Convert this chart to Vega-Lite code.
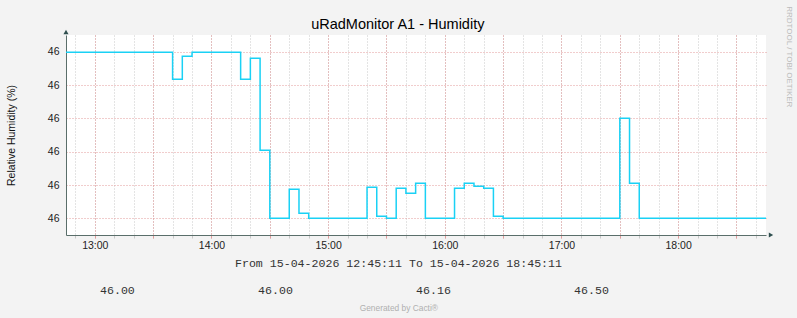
{
  "$schema": "https://vega.github.io/schema/vega-lite/v6.json",
  "background": "#F3F3F3",
  "autosize": {"type": "none"},
  "padding": {"left": 66, "top": 35, "right": 31, "bottom": 83},
  "width": 700,
  "height": 200,
  "config": {"view": {"stroke": null}},
  "view": {"fill": "white", "stroke": null},
  "data": {"values": [
    {"time": "2026-04-15T12:45:11", "humidity": 46.83},
    {"time": "2026-04-15T13:40:00", "humidity": 46.695},
    {"time": "2026-04-15T13:45:00", "humidity": 46.81},
    {"time": "2026-04-15T13:50:00", "humidity": 46.83},
    {"time": "2026-04-15T14:15:00", "humidity": 46.695},
    {"time": "2026-04-15T14:20:00", "humidity": 46.80},
    {"time": "2026-04-15T14:25:00", "humidity": 46.34},
    {"time": "2026-04-15T14:30:00", "humidity": 46.00},
    {"time": "2026-04-15T14:40:00", "humidity": 46.145},
    {"time": "2026-04-15T14:45:00", "humidity": 46.025},
    {"time": "2026-04-15T14:50:00", "humidity": 46.00},
    {"time": "2026-04-15T15:20:00", "humidity": 46.155},
    {"time": "2026-04-15T15:25:00", "humidity": 46.01},
    {"time": "2026-04-15T15:30:00", "humidity": 46.00},
    {"time": "2026-04-15T15:35:00", "humidity": 46.15},
    {"time": "2026-04-15T15:40:00", "humidity": 46.125},
    {"time": "2026-04-15T15:45:00", "humidity": 46.175},
    {"time": "2026-04-15T15:50:00", "humidity": 46.00},
    {"time": "2026-04-15T16:05:00", "humidity": 46.15},
    {"time": "2026-04-15T16:10:00", "humidity": 46.175},
    {"time": "2026-04-15T16:15:00", "humidity": 46.16},
    {"time": "2026-04-15T16:20:00", "humidity": 46.15},
    {"time": "2026-04-15T16:25:00", "humidity": 46.01},
    {"time": "2026-04-15T16:30:00", "humidity": 46.00},
    {"time": "2026-04-15T17:30:00", "humidity": 46.50},
    {"time": "2026-04-15T17:35:00", "humidity": 46.175},
    {"time": "2026-04-15T17:40:00", "humidity": 46.00},
    {"time": "2026-04-15T18:45:11", "humidity": 46.00}
  ]},
  "resolve": {"scale": {"x": "independent"}, "axis": {"x": "independent", "y": "independent"}},
  "layer": [
    {
      "mark": {"type": "line", "interpolate": "step-after", "strokeOpacity": 0},
      "encoding": {
        "x": {
          "field": "time", "type": "temporal",
          "axis": {
            "orient": "bottom",
            "values": [
              {"year": 2026, "month": 4, "date": 15, "hours": 12, "minutes": 50},
              {"year": 2026, "month": 4, "date": 15, "hours": 13, "minutes": 0},
              {"year": 2026, "month": 4, "date": 15, "hours": 13, "minutes": 10},
              {"year": 2026, "month": 4, "date": 15, "hours": 13, "minutes": 20},
              {"year": 2026, "month": 4, "date": 15, "hours": 13, "minutes": 30},
              {"year": 2026, "month": 4, "date": 15, "hours": 13, "minutes": 40},
              {"year": 2026, "month": 4, "date": 15, "hours": 13, "minutes": 50},
              {"year": 2026, "month": 4, "date": 15, "hours": 14, "minutes": 0},
              {"year": 2026, "month": 4, "date": 15, "hours": 14, "minutes": 10},
              {"year": 2026, "month": 4, "date": 15, "hours": 14, "minutes": 20},
              {"year": 2026, "month": 4, "date": 15, "hours": 14, "minutes": 30},
              {"year": 2026, "month": 4, "date": 15, "hours": 14, "minutes": 40},
              {"year": 2026, "month": 4, "date": 15, "hours": 14, "minutes": 50},
              {"year": 2026, "month": 4, "date": 15, "hours": 15, "minutes": 0},
              {"year": 2026, "month": 4, "date": 15, "hours": 15, "minutes": 10},
              {"year": 2026, "month": 4, "date": 15, "hours": 15, "minutes": 20},
              {"year": 2026, "month": 4, "date": 15, "hours": 15, "minutes": 30},
              {"year": 2026, "month": 4, "date": 15, "hours": 15, "minutes": 40},
              {"year": 2026, "month": 4, "date": 15, "hours": 15, "minutes": 50},
              {"year": 2026, "month": 4, "date": 15, "hours": 16, "minutes": 0},
              {"year": 2026, "month": 4, "date": 15, "hours": 16, "minutes": 10},
              {"year": 2026, "month": 4, "date": 15, "hours": 16, "minutes": 20},
              {"year": 2026, "month": 4, "date": 15, "hours": 16, "minutes": 30},
              {"year": 2026, "month": 4, "date": 15, "hours": 16, "minutes": 40},
              {"year": 2026, "month": 4, "date": 15, "hours": 16, "minutes": 50},
              {"year": 2026, "month": 4, "date": 15, "hours": 17, "minutes": 0},
              {"year": 2026, "month": 4, "date": 15, "hours": 17, "minutes": 10},
              {"year": 2026, "month": 4, "date": 15, "hours": 17, "minutes": 20},
              {"year": 2026, "month": 4, "date": 15, "hours": 17, "minutes": 30},
              {"year": 2026, "month": 4, "date": 15, "hours": 17, "minutes": 40},
              {"year": 2026, "month": 4, "date": 15, "hours": 17, "minutes": 50},
              {"year": 2026, "month": 4, "date": 15, "hours": 18, "minutes": 0},
              {"year": 2026, "month": 4, "date": 15, "hours": 18, "minutes": 10},
              {"year": 2026, "month": 4, "date": 15, "hours": 18, "minutes": 20},
              {"year": 2026, "month": 4, "date": 15, "hours": 18, "minutes": 30},
              {"year": 2026, "month": 4, "date": 15, "hours": 18, "minutes": 40}
            ],
            "labels": false, "domain": false, "ticks": true, "tickSize": 3, "tickColor": "#C8C8C8",
            "grid": true, "gridColor": "#C8C8C8", "gridDash": [1, 2],
            "title": "uRadMonitor A1 - Humidity", "titleFont": "Liberation Sans", "titleFontSize": 14.5, "titleFontWeight": "normal", "titleColor": "#000",
            "titleX": 331.3, "titleY": -206.5, "titleBaseline": "alphabetic", "titleAlign": "center"
          }
        },
        "y": {
          "field": "humidity", "type": "quantitative",
          "scale": {"domain": [45.9167, 46.9167], "zero": false, "nice": false},
          "axis": {
            "orient": "right", "labels": false, "ticks": false, "domain": false, "grid": false,
            "title": "RRDTOOL / TOBI OETIKER", "titleFont": "Liberation Sans", "titleFontSize": 8, "titleFontWeight": "normal", "titleColor": "#BBBBBB",
            "titleAngle": 90, "titleX": 22, "titleY": 21.3, "titleAlign": "center", "titleBaseline": "middle"
          }
        }
      }
    },
    {
      "mark": {"type": "line", "interpolate": "step-after", "strokeOpacity": 0},
      "encoding": {
        "x": {
          "field": "time", "type": "temporal",
          "axis": {
            "orient": "bottom",
            "values": [
              {"year": 2026, "month": 4, "date": 15, "hours": 13, "minutes": 0},
              {"year": 2026, "month": 4, "date": 15, "hours": 13, "minutes": 30},
              {"year": 2026, "month": 4, "date": 15, "hours": 14, "minutes": 0},
              {"year": 2026, "month": 4, "date": 15, "hours": 14, "minutes": 30},
              {"year": 2026, "month": 4, "date": 15, "hours": 15, "minutes": 0},
              {"year": 2026, "month": 4, "date": 15, "hours": 15, "minutes": 30},
              {"year": 2026, "month": 4, "date": 15, "hours": 16, "minutes": 0},
              {"year": 2026, "month": 4, "date": 15, "hours": 16, "minutes": 30},
              {"year": 2026, "month": 4, "date": 15, "hours": 17, "minutes": 0},
              {"year": 2026, "month": 4, "date": 15, "hours": 17, "minutes": 30},
              {"year": 2026, "month": 4, "date": 15, "hours": 18, "minutes": 0},
              {"year": 2026, "month": 4, "date": 15, "hours": 18, "minutes": 30}
            ],
            "labels": false, "domain": false, "ticks": true, "tickSize": 3, "tickColor": "#E39B9B",
            "grid": true, "gridColor": "#E39B9B", "gridDash": [1, 2], "title": null
          }
        },
        "y": {
          "field": "humidity", "type": "quantitative",
          "scale": {"domain": [45.9167, 46.9167], "zero": false, "nice": false},
          "axis": null
        }
      }
    },
    {
      "mark": {"type": "line", "interpolate": "step-after", "color": "#1AD1F5", "strokeWidth": 1.5},
      "encoding": {
        "x": {
          "field": "time", "type": "temporal",
          "axis": {
            "orient": "bottom",
            "values": [
              {"year": 2026, "month": 4, "date": 15, "hours": 13, "minutes": 0},
              {"year": 2026, "month": 4, "date": 15, "hours": 14, "minutes": 0},
              {"year": 2026, "month": 4, "date": 15, "hours": 15, "minutes": 0},
              {"year": 2026, "month": 4, "date": 15, "hours": 16, "minutes": 0},
              {"year": 2026, "month": 4, "date": 15, "hours": 17, "minutes": 0},
              {"year": 2026, "month": 4, "date": 15, "hours": 18, "minutes": 0}
            ],
            "format": "%H:%M",
            "labelFont": "Liberation Sans", "labelFontSize": 10.5, "labelColor": "#222", "labelPadding": 5,
            "ticks": false, "grid": false, "domainColor": "#5A6E6A",
            "title": "From 15-04-2026 12:45:11 To 15-04-2026 18:45:11",
            "titleFont": "Liberation Mono", "titleFontSize": 11.6, "titleFontWeight": "normal", "titleColor": "#333",
            "titleX": 332, "titleY": 31.5, "titleBaseline": "alphabetic", "titleAlign": "center"
          }
        },
        "y": {
          "field": "humidity", "type": "quantitative",
          "scale": {"domain": [45.9167, 46.9167], "zero": false, "nice": false},
          "axis": {
            "orient": "left", "values": [46, 46.16667, 46.33333, 46.5, 46.66667, 46.83333],
            "labelExpr": "'46'",
            "labelFont": "Liberation Sans", "labelFontSize": 10.5, "labelColor": "#222", "labelPadding": 7,
            "grid": true, "gridColor": "#E39B9B", "gridDash": [1, 2],
            "ticks": false, "domainColor": "#5A6E6A",
            "title": "Relative Humidity (%)", "titleFont": "Liberation Sans", "titleFontSize": 10.5, "titleFontWeight": "normal", "titleColor": "#111",
            "titleX": -55, "titleY": 100, "titleAlign": "center", "titleBaseline": "middle", "titleAngle": -90
          }
        }
      }
    },
    {
      "data": {"values": [{"axis": "y"}]},
      "mark": {"type": "point", "shape": "triangle-up", "filled": true, "color": "#2F4F4F", "size": 26, "opacity": 1, "yOffset": -3},
      "encoding": {
        "x": {
          "datum": {"year": 2026, "month": 4, "date": 15, "hours": 12, "minutes": 45, "seconds": 11}, "type": "temporal",
          "scale": {"domain": [{"year": 2026, "month": 4, "date": 15, "hours": 12, "minutes": 45, "seconds": 11}, {"year": 2026, "month": 4, "date": 15, "hours": 18, "minutes": 45, "seconds": 11}]},
          "axis": null
        },
        "y": {"datum": 46.9167, "type": "quantitative", "axis": null}
      }
    },
    {
      "data": {"values": [{"axis": "x"}]},
      "mark": {"type": "point", "shape": "triangle-right", "filled": true, "color": "#2F4F4F", "size": 26, "opacity": 1, "xOffset": 5},
      "encoding": {
        "x": {
          "datum": {"year": 2026, "month": 4, "date": 15, "hours": 18, "minutes": 45, "seconds": 11}, "type": "temporal",
          "scale": {"domain": [{"year": 2026, "month": 4, "date": 15, "hours": 12, "minutes": 45, "seconds": 11}, {"year": 2026, "month": 4, "date": 15, "hours": 18, "minutes": 45, "seconds": 11}]},
          "axis": null
        },
        "y": {"datum": 45.9167, "type": "quantitative", "axis": null}
      }
    },
    {
      "data": {"values": [
        {"stat": "Current", "value": 46.00},
        {"stat": "Minimum", "value": 46.00},
        {"stat": "Average", "value": 46.16},
        {"stat": "Maximum", "value": 46.50}
      ]},
      "mark": {"type": "text", "font": "Liberation Mono", "fontSize": 11.6, "color": "#333", "baseline": "middle", "yOffset": 156},
      "encoding": {
        "x": {
          "field": "stat", "type": "nominal", "sort": null,
          "scale": {"type": "point", "padding": 0.715, "align": 0.2276},
          "axis": {
            "orient": "bottom", "labels": false, "ticks": false, "domain": false, "grid": false,
            "title": "Generated by Cacti®", "titleFont": "Liberation Sans", "titleFontSize": 8.4, "titleFontWeight": "normal", "titleColor": "#B0B0B0",
            "titleX": 332.3, "titleY": 72, "titleBaseline": "middle", "titleAlign": "center"
          }
        },
        "text": {"field": "value", "type": "quantitative", "format": ".2f"}
      }
    }
  ]
}
